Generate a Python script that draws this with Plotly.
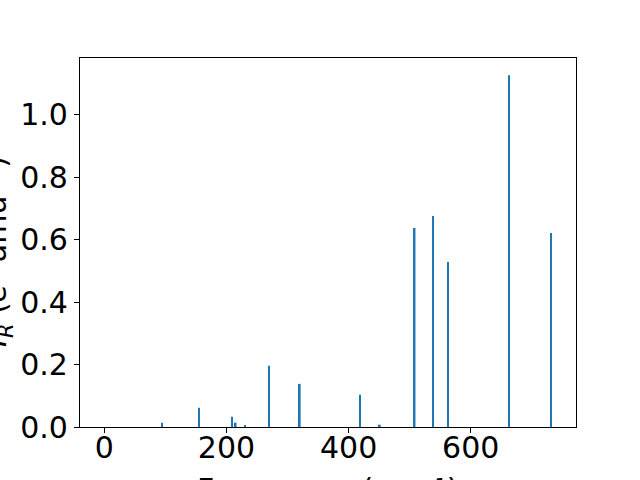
import plotly.graph_objects as go

# Data
frequencies = [95, 155, 209.5, 215, 231, 269, 320, 419, 451, 508, 538.5, 563, 663, 731.5]
intensities = [0.014, 0.062, 0.033, 0.014, 0.004, 0.196, 0.138, 0.103, 0.0075, 0.637, 0.675, 0.528, 1.126, 0.621]
x_ticks = [0, 200, 400, 600]
y_ticks = [0.0, 0.2, 0.4, 0.6, 0.8, 1.0]

# styling (bar widths in data units)
bar_widths = [1.6, 3.0, 1.6, 3.0, 1.6, 1.6, 3.0, 1.6, 3.0, 3.0, 1.6, 1.6, 1.6, 1.6]

FONT = "DejaVu Sans"
FS = 30
fig = go.Figure(go.Bar(
    x=frequencies, y=intensities, width=bar_widths,
    marker=dict(color="#1f77b4", line=dict(width=0)),
    hoverinfo="skip",
))

fig.update_layout(
    width=640, height=480,
    margin=dict(l=80, r=64, t=58, b=53),
    plot_bgcolor="white", paper_bgcolor="white",
    showlegend=False,
    font=dict(family=FONT, size=FS, color="black"),
)
fig.update_xaxes(
    range=[-39.8, 772.4], tickvals=x_ticks, ticktext=[str(v) for v in x_ticks],
    showline=True, mirror=True, linecolor="black", linewidth=1.1,
    ticks="outside", ticklen=5, tickwidth=1.1, tickcolor="black",
    showgrid=False, zeroline=False, automargin=False,
    ticklabelstandoff=-11,
    tickfont=dict(family=FONT, size=FS, color="black"),
)
fig.update_yaxes(
    range=[0, 1.181], tickvals=y_ticks, ticktext=[f"{v:.1f}" for v in y_ticks],
    showline=True, mirror=True, linecolor="black", linewidth=1.1,
    ticks="outside", ticklen=5, tickwidth=1.1, tickcolor="black",
    showgrid=False, zeroline=False, automargin=False,
    tickfont=dict(family=FONT, size=FS, color="black"),
)

fig.add_annotation(
    text="Frequency (cm⁻¹)", xref="paper", yref="paper",
    x=0.5, y=-0.117, xanchor="center", yanchor="top", showarrow=False,
    font=dict(family=FONT, size=FS, color="black"),
)
fig.add_annotation(
    text="<i>I</i><sub><i>R</i></sub> (<i>e</i>² amu⁻¹)",
    xref="paper", yref="paper",
    x=-0.165, y=0.475, xanchor="center", yanchor="middle", textangle=-90, showarrow=False,
    font=dict(family=FONT, size=FS, color="black"),
)

fig.write_html(
    "out.html",
    config={"displayModeBar": False},
    post_script="document.body.style.margin='0';document.body.style.overflow='hidden';",
)
